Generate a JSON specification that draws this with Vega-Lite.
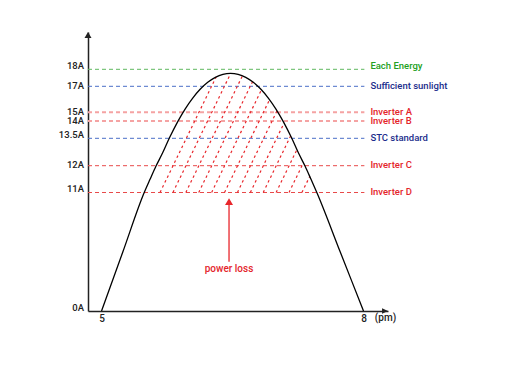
{
  "$schema": "https://vega.github.io/schema/vega-lite/v6.json",
  "width": 300,
  "height": 279,
  "autosize": {"type": "none"},
  "padding": {"left": 88, "top": 32, "right": 124, "bottom": 59},
  "background": "white",
  "config": {"view": {"stroke": null}, "font": "Roboto", "axis": {"labelOverlap": false, "labelFlush": false}},
  "datasets": {
    "curve": [
      {"t": 5.0000, "a": 0},
      {"t": 5.2445, "a": 5.5},
      {"t": 5.4889, "a": 11},
      {"t": 5.5554, "a": 11.493},
      {"t": 5.6241, "a": 11.989},
      {"t": 5.6916, "a": 12.624},
      {"t": 5.7809, "a": 13.529},
      {"t": 5.8680, "a": 13.962},
      {"t": 5.9550, "a": 15.231},
      {"t": 6.0420, "a": 16.077},
      {"t": 6.1291, "a": 16.769},
      {"t": 6.2161, "a": 17.235},
      {"t": 6.3031, "a": 17.529},
      {"t": 6.3901, "a": 17.706},
      {"t": 6.4771, "a": 17.765},
      {"t": 6.5642, "a": 17.706},
      {"t": 6.6512, "a": 17.529},
      {"t": 6.7382, "a": 17.235},
      {"t": 6.8253, "a": 16.769},
      {"t": 6.9123, "a": 16.077},
      {"t": 6.9993, "a": 15.231},
      {"t": 7.0863, "a": 13.962},
      {"t": 7.1734, "a": 13.529},
      {"t": 7.2627, "a": 12.624},
      {"t": 7.3302, "a": 11.989},
      {"t": 7.3989, "a": 11.493},
      {"t": 7.4654, "a": 11},
      {"t": 7.7327, "a": 5.5},
      {"t": 8.0000, "a": 0}
    ],
    "levels": [
      {"a": 18, "label": "Each Energy", "group": "each"},
      {"a": 17, "label": "Sufficient sunlight", "group": "sun"},
      {"a": 15, "label": "Inverter A", "group": "invlight"},
      {"a": 14, "label": "Inverter B", "group": "invlight"},
      {"a": 13.5, "label": "STC standard", "group": "stc"},
      {"a": 12, "label": "Inverter C", "group": "inv"},
      {"a": 11, "label": "Inverter D", "group": "inv"}
    ],
    "ylabels": [
      {"a": 0, "label": "0A"},
      {"a": 11, "label": "11A"},
      {"a": 12, "label": "12A"},
      {"a": 13.5, "label": "13.5A"},
      {"a": 14, "label": "14A"},
      {"a": 15, "label": "15A"},
      {"a": 17, "label": "17A"},
      {"a": 18, "label": "18A"}
    ],
    "hatch": [
      {"t": 5.6699, "a": 11, "t2": 6.3123, "a2": 17.553},
      {"t": 5.8176, "a": 11, "t2": 6.4794, "a2": 17.765},
      {"t": 5.9653, "a": 11, "t2": 6.6134, "a2": 17.618},
      {"t": 6.1130, "a": 11, "t2": 6.7291, "a2": 17.274},
      {"t": 6.2607, "a": 11, "t2": 6.8310, "a2": 16.731},
      {"t": 6.4084, "a": 11, "t2": 6.9237, "a2": 15.969},
      {"t": 6.5562, "a": 11, "t2": 7.0096, "a2": 15.115},
      {"t": 6.7039, "a": 11, "t2": 7.0909, "a2": 13.945},
      {"t": 6.8516, "a": 11, "t2": 7.1654, "a2": 13.569},
      {"t": 6.9993, "a": 11, "t2": 7.2375, "a2": 12.881},
      {"t": 7.1470, "a": 11, "t2": 7.3119, "a2": 12.159},
      {"t": 7.2947, "a": 11, "t2": 7.3841, "a2": 11.597}
    ],
    "lossArrow": [{"t": 6.46, "a": 4.578, "a2": 9.95, "head": 10.09, "text": "power loss", "textA": 3.9}],
    "axisArrows": [
      {"t": 4.845, "a": 19.81, "dir": "up"},
      {"t": 8.2405, "a": 0, "dir": "right"}
    ],
    "unit": [{"t": 8.252, "a": 0, "text": "(pm)"}]
  },
  "layer": [
    {
      "data": {"name": "levels"},
      "mark": {"type": "rule", "strokeDash": [4, 3]},
      "encoding": {
        "y": {
          "field": "a", "type": "quantitative",
          "scale": {
            "domain": [0, 11, 12, 13.5, 14, 15, 17, 18, 20],
            "range": [279, 160.5, 133.7, 106.3, 89, 80.3, 54.3, 37.3, 0],
            "nice": false, "zero": false
          },
          "axis": {
            "values": [0, 18], "labels": false, "title": null, "ticks": false, "grid": false,
            "domainColor": "#222222", "domainWidth": 1.5
          }
        },
        "x": {
          "datum": 4.845, "type": "quantitative",
          "scale": {"domain": [4.845, 8.2805], "nice": false, "zero": false},
          "axis": {
            "values": [5, 8], "format": "d", "title": null, "ticks": false, "grid": false,
            "domainColor": "#222222", "domainWidth": 1.5,
            "labelFontSize": 10, "labelColor": "#222222", "labelPadding": 2,
            "labelFont": "Roboto", "labelFontWeight": 500, "labelFlush": false, "labelOverlap": false
          }
        },
        "x2": {"datum": 8.01},
        "stroke": {
          "field": "group", "type": "nominal", "legend": null,
          "scale": {"domain": ["each", "sun", "invlight", "stc", "inv"], "range": ["#5fb85f", "#4a6fc7", "#f5a3a3", "#4a6fc7", "#e84a4a"]}
        },
        "strokeWidth": {"condition": {"test": "datum.group == 'invlight'", "value": 2}, "value": 1}
      }
    },
    {
      "data": {"name": "hatch"},
      "mark": {"type": "rule", "color": "#e8262b", "strokeWidth": 1.2, "strokeDash": [2.5, 3]},
      "encoding": {
        "x": {"field": "t", "type": "quantitative"},
        "y": {"field": "a", "type": "quantitative"},
        "x2": {"field": "t2"},
        "y2": {"field": "a2"}
      }
    },
    {
      "data": {"name": "curve"},
      "mark": {"type": "line", "interpolate": "monotone", "color": "#000000", "strokeWidth": 1.3},
      "encoding": {
        "x": {"field": "t", "type": "quantitative"},
        "y": {"field": "a", "type": "quantitative"}
      }
    },
    {
      "data": {"name": "ylabels"},
      "transform": [{"filter": "datum.a == 18 || datum.a == 13.5 || datum.a == 11 || datum.a == 0"}],
      "mark": {"type": "text", "align": "right", "baseline": "middle", "dx": -4, "dy": -3.2, "fontSize": 9.5, "font": "Roboto", "fontWeight": 500, "color": "#222222"},
      "encoding": {
        "x": {"datum": 4.845, "type": "quantitative"},
        "y": {"field": "a", "type": "quantitative"},
        "text": {"field": "label"}
      }
    },
    {
      "data": {"name": "ylabels"},
      "transform": [{"filter": "!(datum.a == 18 || datum.a == 13.5 || datum.a == 11 || datum.a == 0)"}],
      "mark": {"type": "text", "align": "right", "baseline": "middle", "dx": -4, "dy": -0.5, "fontSize": 9.5, "font": "Roboto", "fontWeight": 500, "color": "#222222"},
      "encoding": {
        "x": {"datum": 4.845, "type": "quantitative"},
        "y": {"field": "a", "type": "quantitative"},
        "text": {"field": "label"}
      }
    },
    {
      "data": {"name": "levels"},
      "transform": [{"filter": "datum.group == 'each'"}],
      "mark": {"type": "text", "align": "left", "baseline": "middle", "dx": 6, "dy": -3.5, "fontSize": 9.5, "font": "Roboto", "fontWeight": 500},
      "encoding": {
        "x": {"datum": 8.01, "type": "quantitative"},
        "y": {"field": "a", "type": "quantitative"},
        "text": {"field": "label"},
        "fill": {
          "field": "group", "type": "nominal", "legend": null,
          "scale": {"domain": ["each", "sun", "invlight", "stc", "inv"], "range": ["#23a023", "#1c2e8c", "#e4252b", "#1c2e8c", "#e4252b"]}
        }
      }
    },
    {
      "data": {"name": "levels"},
      "transform": [{"filter": "datum.group != 'each'"}],
      "mark": {"type": "text", "align": "left", "baseline": "middle", "dx": 6, "dy": -0.5, "fontSize": 9.5, "font": "Roboto", "fontWeight": 500},
      "encoding": {
        "x": {"datum": 8.01, "type": "quantitative"},
        "y": {"field": "a", "type": "quantitative"},
        "text": {"field": "label"},
        "fill": {"field": "group", "type": "nominal", "legend": null}
      }
    },
    {
      "data": {"name": "lossArrow"},
      "mark": {"type": "rule", "color": "#e8262b", "strokeWidth": 1.3},
      "encoding": {
        "x": {"field": "t", "type": "quantitative"},
        "y": {"field": "a", "type": "quantitative"},
        "y2": {"field": "a2"}
      }
    },
    {
      "data": {"name": "lossArrow"},
      "mark": {"type": "point", "shape": "M0,-1L1,0.7L-1,0.7Z", "size": 64, "filled": true, "color": "#e8262b", "opacity": 1},
      "encoding": {
        "x": {"field": "t", "type": "quantitative"},
        "y": {"field": "head", "type": "quantitative"}
      }
    },
    {
      "data": {"name": "lossArrow"},
      "mark": {"type": "text", "align": "center", "baseline": "middle", "fontSize": 10, "font": "Roboto", "fontWeight": 500, "color": "#e4252b"},
      "encoding": {
        "x": {"field": "t", "type": "quantitative"},
        "y": {"field": "textA", "type": "quantitative"},
        "text": {"field": "text"}
      }
    },
    {
      "data": {"name": "axisArrows"},
      "transform": [{"filter": "datum.dir == 'up'"}],
      "mark": {"type": "point", "shape": "M0,-1L1,0.7L-1,0.7Z", "size": 49, "filled": true, "color": "#222222", "opacity": 1},
      "encoding": {
        "x": {"field": "t", "type": "quantitative"},
        "y": {"field": "a", "type": "quantitative"}
      }
    },
    {
      "data": {"name": "axisArrows"},
      "transform": [{"filter": "datum.dir == 'right'"}],
      "mark": {"type": "point", "shape": "M1,0L-0.7,-0.8L-0.7,0.8Z", "size": 49, "filled": true, "color": "#222222", "opacity": 1},
      "encoding": {
        "x": {"field": "t", "type": "quantitative"},
        "y": {"field": "a", "type": "quantitative"}
      }
    },
    {
      "data": {"name": "unit"},
      "mark": {"type": "text", "align": "center", "baseline": "middle", "dy": 6.5, "fontSize": 10, "font": "Roboto", "fontWeight": 500, "color": "#222222"},
      "encoding": {
        "x": {"field": "t", "type": "quantitative"},
        "y": {"field": "a", "type": "quantitative"},
        "text": {"field": "text"}
      }
    }
  ]
}
